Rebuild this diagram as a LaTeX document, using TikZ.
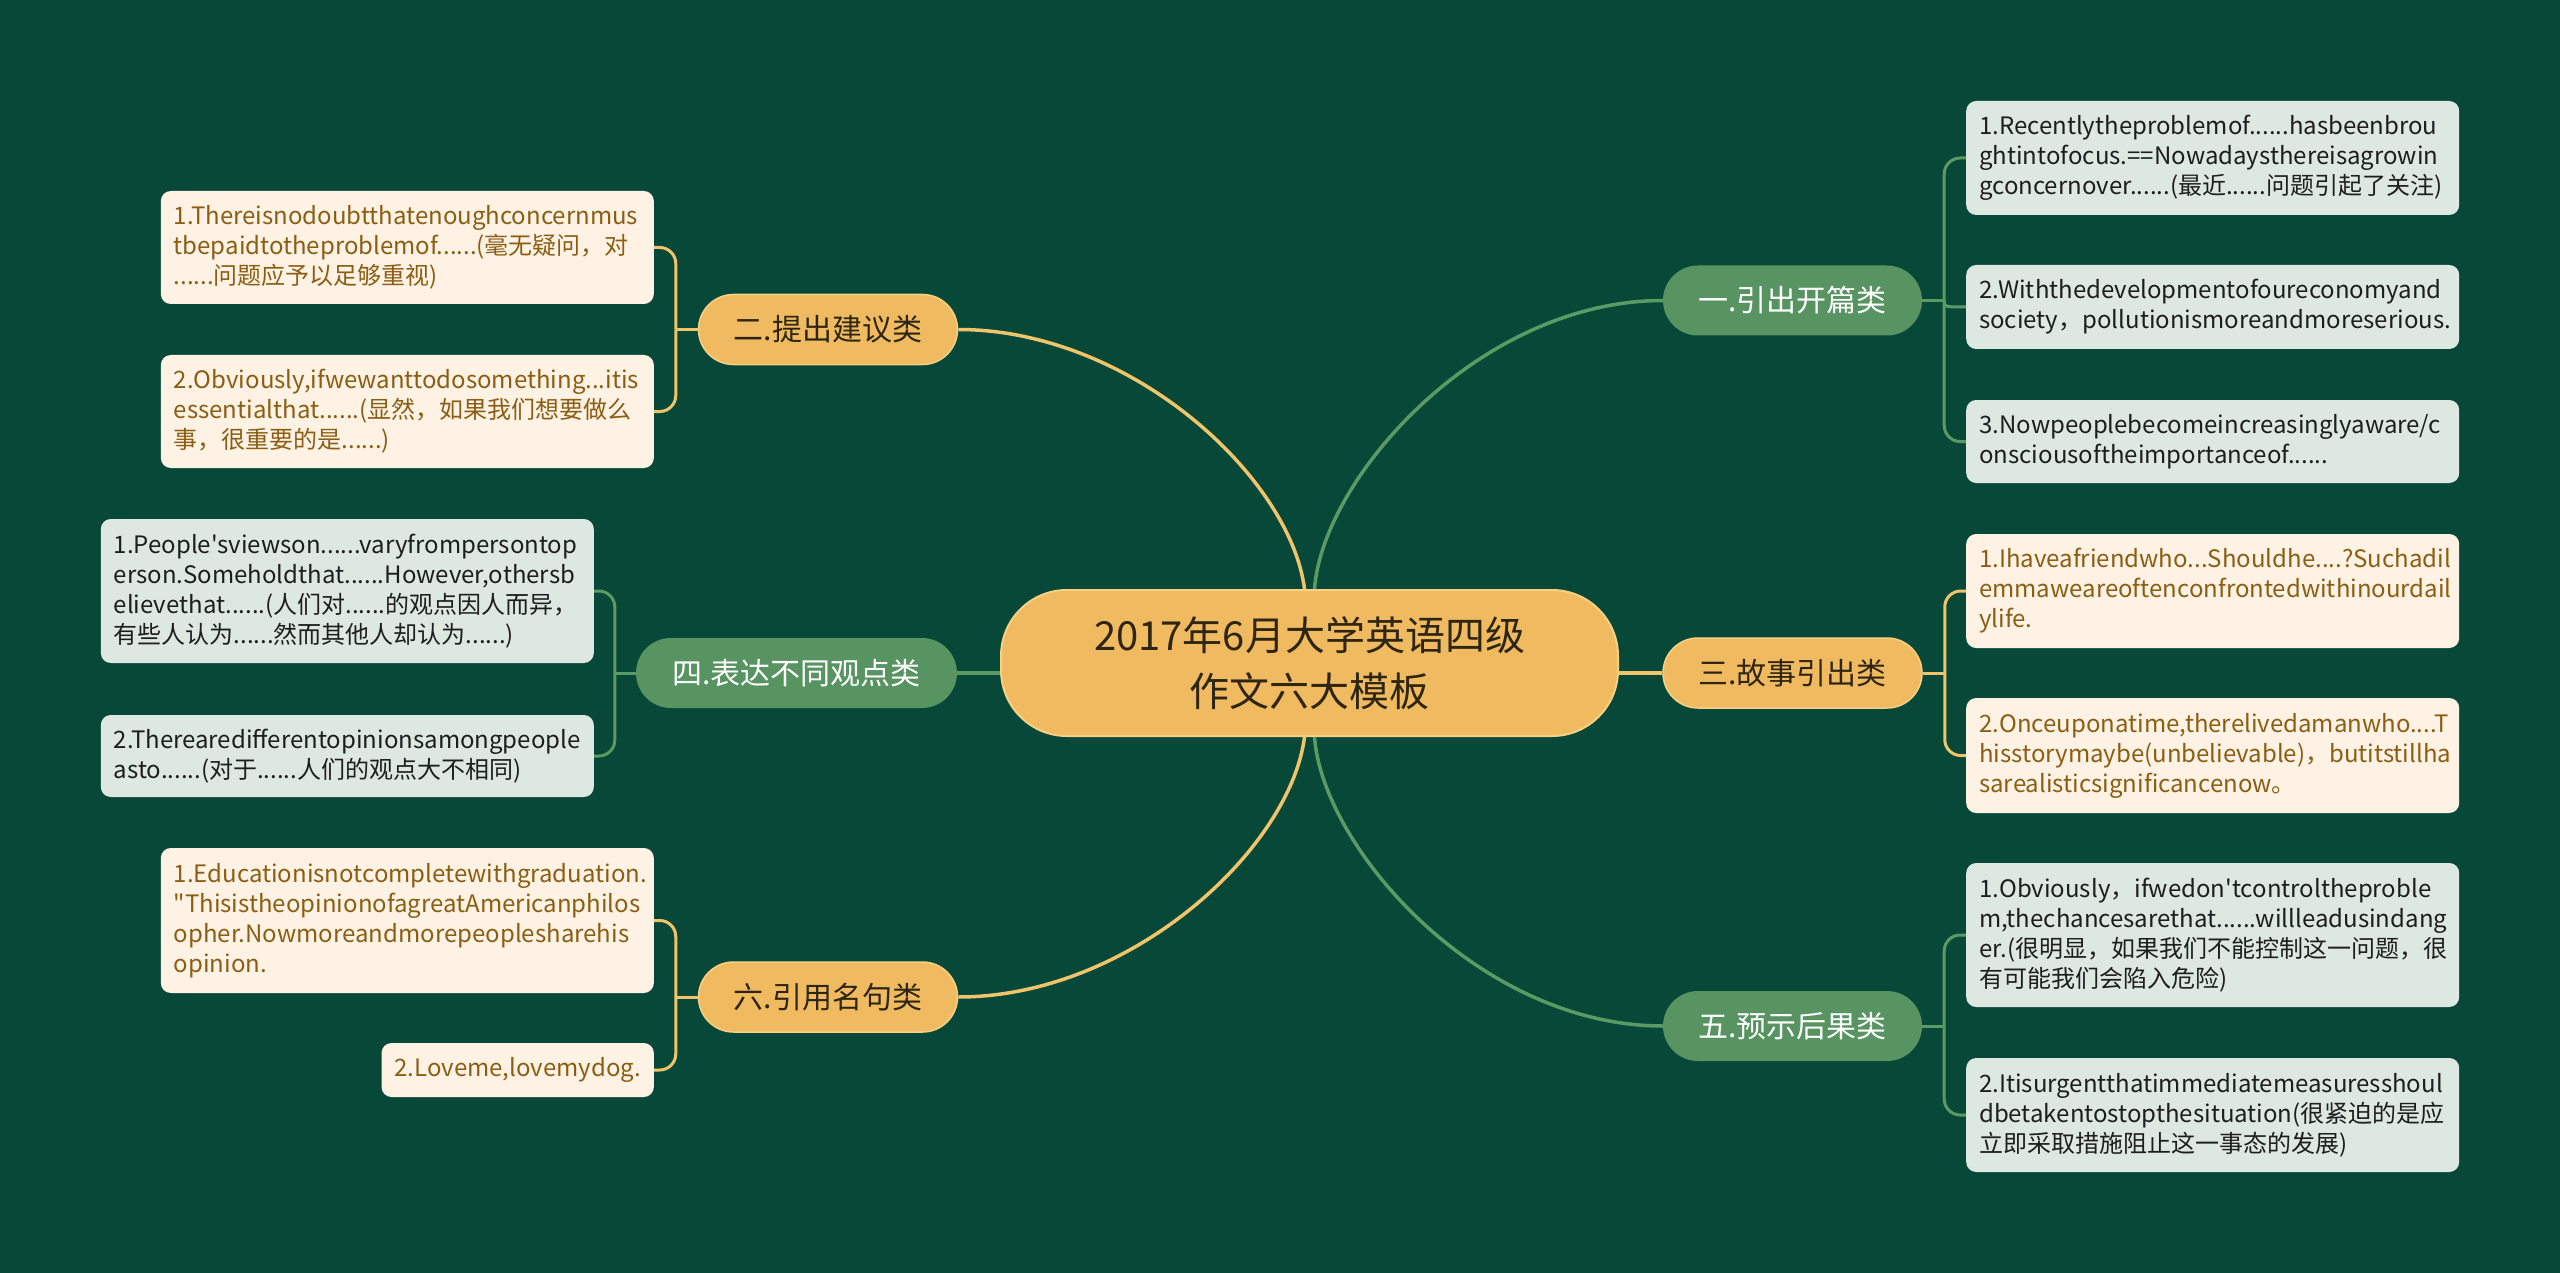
\documentclass[tikz,border=0pt]{standalone}
\usepackage{fontspec}
\newfontfamily\cjk{Noto Sans CJK SC}
\hyphenpenalty=10000
\exhyphenpenalty=10000
\definecolor{bg}{RGB}{8,72,56}
\definecolor{gbranch}{RGB}{88,148,98}
\definecolor{obranch}{RGB}{240,187,96}
\definecolor{oedge}{RGB}{247,208,130}
\definecolor{gline}{RGB}{90,154,100}
\definecolor{oline}{RGB}{240,196,106}
\definecolor{leafgreen}{RGB}{221,232,224}
\definecolor{leafcream}{RGB}{253,242,227}
\definecolor{browntext}{RGB}{139,94,20}
\definecolor{darktext}{RGB}{30,30,30}
\definecolor{otext}{RGB}{46,38,18}
\begin{document}
\begin{tikzpicture}[x=1pt,y=-1pt,
  mainnode/.style={fill=obranch,draw=oedge,line width=2pt,rounded corners=66pt,
    minimum width=617pt,minimum height=146pt,align=center,text=otext,
    font=\cjk\fontsize{40}{56}\selectfont},
  branch/.style={rounded corners=35pt,minimum width=259pt,minimum height=70pt,inner sep=0pt,
    font=\cjk\fontsize{30}{36}\selectfont},
  gbr/.style={branch,fill=gbranch,text=white},
  obr/.style={branch,fill=obranch,draw=oedge,line width=1.5pt,text=otext},
  leaf/.style={rounded corners=10pt,text width=467pt,inner xsep=13pt,inner ysep=0pt,
    align=left,font=\cjk\fontsize{24}{30}\selectfont},
  leafg/.style={leaf,fill=leafgreen,text=darktext},
  leafc/.style={leaf,fill=leafcream,text=browntext},
  gmain/.style={draw=gline,line width=3.5pt},
  omain/.style={draw=oline,line width=3.5pt},
  gbrk/.style={draw=gline,line width=3pt,rounded corners=16pt},
  obrk/.style={draw=oline,line width=3pt,rounded corners=16pt}
]
\useasboundingbox (0,0) rectangle (2560,1273);
\fill[bg] (0,0) rectangle (2560,1273);

% center and branches
\node[mainnode] (c) at (1309.5,663) {2017年6月大学英语四级\\作文六大模板};
\node[gbr] (b1) at (1792.5,300.5) {一.引出开篇类};
\node[obr] (b3) at (1792.5,673) {三.故事引出类};
\node[gbr] (b5) at (1792.5,1026) {五.预示后果类};
\node[obr] (b2) at (828,329.5) {二.提出建议类};
\node[gbr,minimum width=321pt] (b4) at (796.5,673) {四.表达不同观点类};
\node[obr] (b6) at (828,997) {六.引用名句类};

% right leaves
\node[leafg,anchor=west,minimum height=114pt] (r1) at (1966,158) {1.Recentlytheproblemof......hasbeenbrou\\ghtintofocus.==Nowadaysthereisagrowin\\gconcernover......(最近......问题引起了关注)};
\node[leafg,anchor=west,minimum height=84pt] (r2) at (1966,307) {2.Withthedevelopmentofoureconomyand\\society，pollutionismoreandmoreserious.};
\node[leafg,anchor=west,minimum height=83pt] (r3) at (1966,441.5) {3.Nowpeoplebecomeincreasinglyaware/c\\onsciousoftheimportanceof......};
\node[leafc,anchor=west,minimum height=114pt] (r4) at (1966,591) {1.Ihaveafriendwho...Shouldhe....?Suchadil\\emmaweareoftenconfrontedwithinourdail\\ylife.};
\node[leafc,anchor=west,minimum height=115pt] (r5) at (1966,755.5) {2.Onceuponatime,therelivedamanwho....T\\hisstorymaybe(unbelievable)，butitstillha\\sarealisticsignificancenow。};
\node[leafg,anchor=west,minimum height=144pt] (r6) at (1966,935) {1.Obviously，ifwedon'tcontroltheproble\\m,thechancesarethat......willleadusindang\\er.(很明显，如果我们不能控制这一问题，很\\有可能我们会陷入危险)};
\node[leafg,anchor=west,minimum height=114pt] (r7) at (1966,1115) {2.Itisurgentthatimmediatemeasuresshoul\\dbetakentostopthesituation(很紧迫的是应\\立即采取措施阻止这一事态的发展)};

% left leaves
\node[leafc,anchor=east,minimum height=113pt] (l1) at (654,247.5) {1.Thereisnodoubtthatenoughconcernmus\\tbepaidtotheproblemof......(毫无疑问，对\\......问题应予以足够重视)};
\node[leafc,anchor=east,minimum height=113pt] (l2) at (654,411.5) {2.Obviously,ifwewanttodosomething...itis\\essentialthat......(显然，如果我们想要做么\\事，很重要的是......)};
\node[leafg,anchor=east,minimum height=144pt] (l3) at (594,591) {1.People'sviewson......varyfrompersontop\\erson.Someholdthat......However,othersb\\elievethat......(人们对......的观点因人而异，\\有些人认为......然而其他人却认为......)};
\node[leafg,anchor=east,minimum height=82pt] (l4) at (594,756) {2.Therearedifferentopinionsamongpeople\\asto......(对于......人们的观点大不相同)};
\node[leafc,anchor=east,minimum height=145pt] (l5) at (654,920.5) {1.Educationisnotcompletewithgraduation.\\"ThisistheopinionofagreatAmericanphilos\\opher.Nowmoreandmorepeoplesharehis\\opinion.};
\node[leafc,anchor=east,text width={},minimum height=54pt] (l6) at (654,1070) {2.Loveme,lovemydog.};

% center to branches
\draw[gmain] ([xshift=5pt]c.north) .. controls +(8,-111) and +(-183,0) .. (b1.west);
\draw[omain] ([xshift=-5pt]c.north) .. controls +(-14,-111) and +(173,0) .. (b2.east);
\draw[gmain] ([xshift=5pt]c.south) .. controls +(8,111) and +(-183,0) .. (b5.west);
\draw[omain] ([xshift=-5pt]c.south) .. controls +(-14,111) and +(173,0) .. (b6.east);
\draw[omain] (c.east |- b3.west) -- (b3.west);
\draw[gmain] (c.west |- b4.east) -- (b4.east);

% brackets right
\coordinate (k1) at ([xshift=22pt]b1.east);
\coordinate (k3) at ([xshift=22pt]b3.east);
\coordinate (k5) at ([xshift=22pt]b5.east);
\draw[gbrk] (b1.east) -- (k1);
\draw[gbrk] (k1) |- (r1.west);
\draw[gbrk] (k1) .. controls (k1 |- r2.west) .. (r2.west);
\draw[gbrk] (k1) |- (r3.west);
\draw[obrk] (b3.east) -- (k3);
\draw[obrk] (k3) |- (r4.west);
\draw[obrk] (k3) |- (r5.west);
\draw[gbrk] (b5.east) -- (k5);
\draw[gbrk] (k5) |- (r6.west);
\draw[gbrk] (k5) |- (r7.west);

% brackets left
\coordinate (k2) at ([xshift=-22pt]b2.west);
\coordinate (k4) at ([xshift=-21pt]b4.west);
\coordinate (k6) at ([xshift=-22pt]b6.west);
\draw[obrk] (b2.west) -- (k2);
\draw[obrk] (k2) |- (l1.east);
\draw[obrk] (k2) |- (l2.east);
\draw[gbrk] (b4.west) -- (k4);
\draw[gbrk] (k4) |- (l3.east);
\draw[gbrk] (k4) |- (l4.east);
\draw[obrk] (b6.west) -- (k6);
\draw[obrk] (k6) |- (l5.east);
\draw[obrk] (k6) |- (l6.east);
\end{tikzpicture}
\end{document}
